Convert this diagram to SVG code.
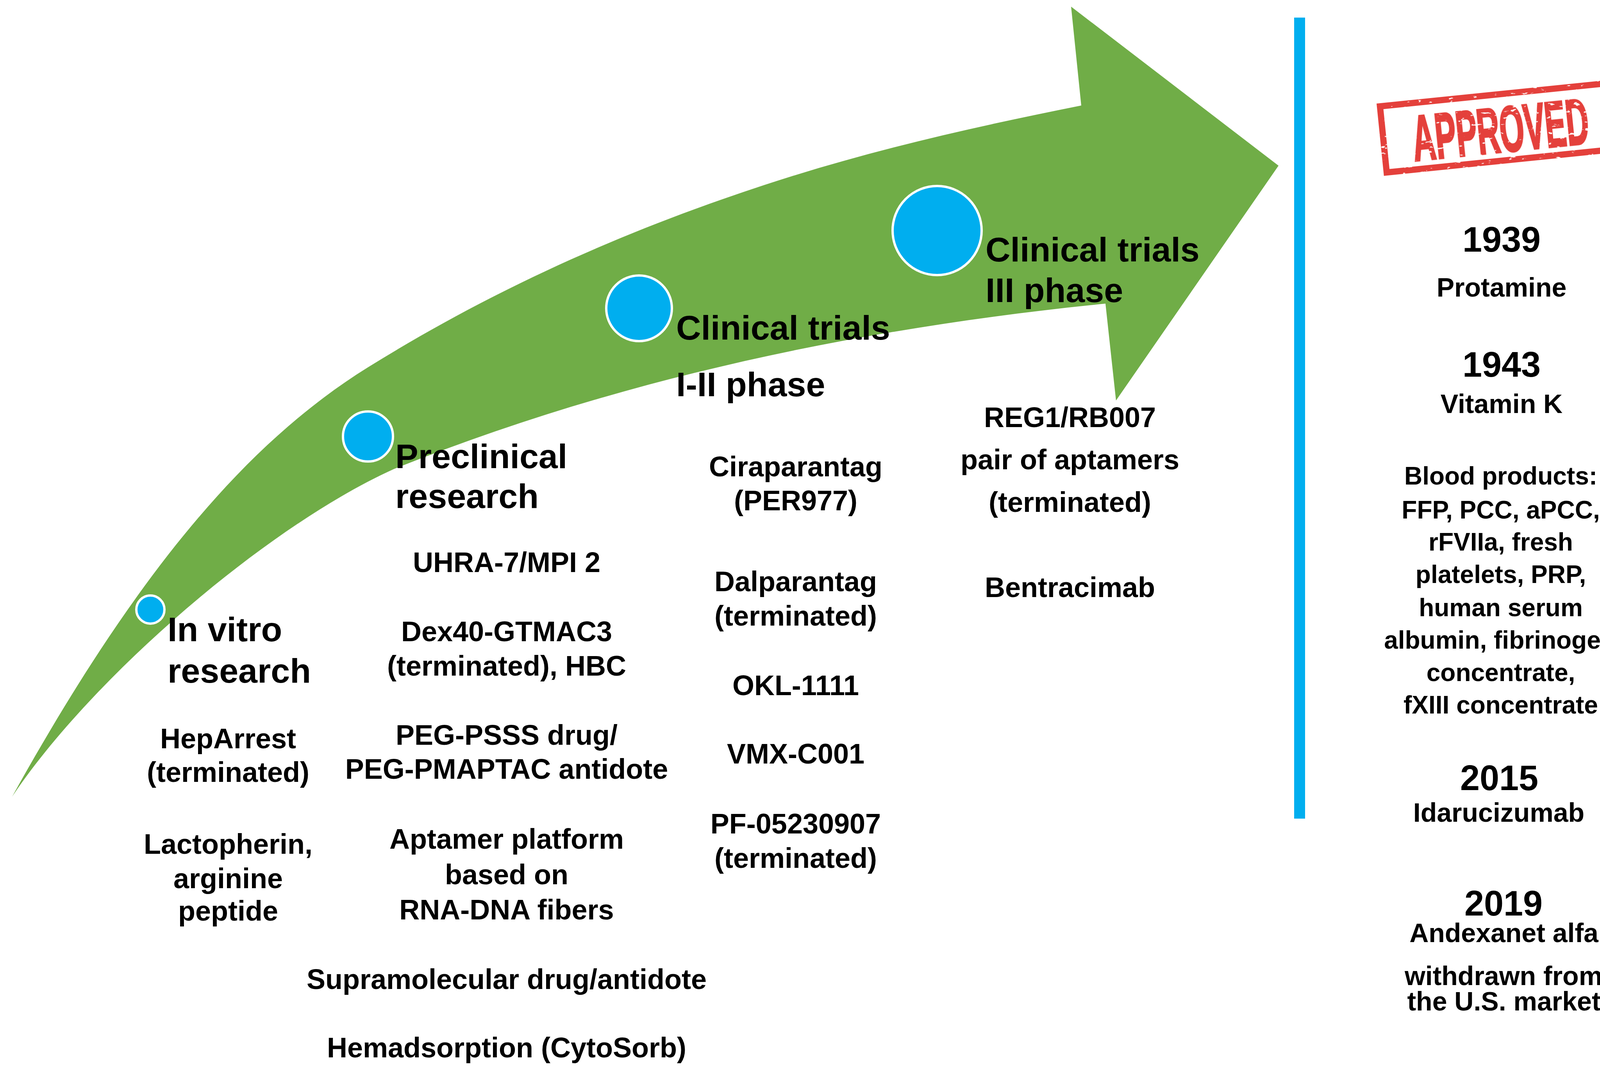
<svg xmlns="http://www.w3.org/2000/svg" width="4168" height="2746" viewBox="0 0 4168 2746">
<style>
.h{font-family:"Liberation Sans",Arial,sans-serif;font-weight:bold;font-size:88px;fill:#000}
.b{font-family:"Liberation Sans",Arial,sans-serif;font-weight:bold;font-size:72px;fill:#000;text-anchor:middle}
.y{font-family:"Liberation Sans",Arial,sans-serif;font-weight:bold;font-size:90px;fill:#000;text-anchor:middle}
.r{font-family:"Liberation Sans",Arial,sans-serif;font-weight:bold;font-size:68px;fill:#000;text-anchor:middle}
.s{font-family:"Liberation Sans",Arial,sans-serif;font-weight:bold;font-size:64px;fill:#000;text-anchor:middle}
.dot{fill:#00AEEF;stroke:#fff;stroke-width:6}
</style>
<defs>
<filter id="grunge" x="-5%" y="-10%" width="110%" height="120%">
<feTurbulence type="fractalNoise" baseFrequency="0.05 0.12" numOctaves="3" seed="7" result="noise"/>
<feColorMatrix in="noise" type="matrix" values="0 0 0 0 0  0 0 0 0 0  0 0 0 0 0  16 0 0 0 -4" result="mask"/>
<feComposite in="SourceGraphic" in2="mask" operator="in"/>
</filter>
</defs>
<rect width="4168" height="2746" fill="#fff"/>
<g id="arrow">
<path fill="#70AD47" d="M31,2039 C331,1499 612,1145 942,940 C1282,729 1615,586 1955,474 C2225,385 2498,324 2768,270 L2742,17 L3273,424 L2857,1025 L2830,777 C2230,837 1609,960 1009,1200 C679,1349 231,1739 31,2039 Z"/>
</g>
<g id="connectors"></g>
<rect id="divider" x="3313" y="45" width="28" height="2050" fill="#00AEEF"/>
<g id="stage-invitro">
<circle class="dot" cx="385" cy="1560" r="36"/>
<text class="h" x="429" y="1641">In vitro</text>
<text class="h" x="429" y="1747">research</text>
<text class="b" x="584" y="1915">HepArrest</text>
<text class="b" x="584" y="2001">(terminated)</text>
<text class="b" x="584" y="2185">Lactopherin,</text>
<text class="b" x="584" y="2273">arginine</text>
<text class="b" x="584" y="2356">peptide</text>
</g>
<g id="stage-preclinical">
<circle class="dot" cx="942" cy="1117" r="64"/>
<text class="h" x="1012" y="1198">Preclinical</text>
<text class="h" x="1012" y="1300">research</text>
<text class="b" x="1297" y="1464">UHRA-7/MPI 2</text>
<text class="b" x="1297" y="1641">Dex40-GTMAC3</text>
<text class="b" x="1297" y="1729">(terminated), HBC</text>
<text class="b" x="1297" y="1906">PEG-PSSS drug/</text>
<text class="b" x="1297" y="1993">PEG-PMAPTAC antidote</text>
<text class="b" x="1297" y="2172">Aptamer platform</text>
<text class="b" x="1297" y="2263">based on</text>
<text class="b" x="1297" y="2353">RNA-DNA fibers</text>
<text class="b" x="1297" y="2531">Supramolecular drug/antidote</text>
<text class="b" x="1297" y="2706">Hemadsorption (CytoSorb)</text>
</g>
<g id="stage-phase12">
<circle class="dot" cx="1636" cy="789" r="84"/>
<text class="h" x="1731" y="869">Clinical trials</text>
<text class="h" x="1731" y="1014">I-II phase</text>
<text class="b" x="2037" y="1219">Ciraparantag</text>
<text class="b" x="2037" y="1306">(PER977)</text>
<text class="b" x="2037" y="1513">Dalparantag</text>
<text class="b" x="2037" y="1601">(terminated)</text>
<text class="b" x="2037" y="1779">OKL-1111</text>
<text class="b" x="2037" y="1954">VMX-C001</text>
<text class="b" x="2037" y="2133">PF-05230907</text>
<text class="b" x="2037" y="2221">(terminated)</text>
</g>
<g id="stage-phase3">
<circle class="dot" cx="2399" cy="590" r="114"/>
<text class="h" x="2523" y="669">Clinical trials</text>
<text class="h" x="2523" y="773">III phase</text>
<text class="b" x="2739" y="1093">REG1/RB007</text>
<text class="b" x="2739" y="1201">pair of aptamers</text>
<text class="b" x="2739" y="1310">(terminated)</text>
<text class="b" x="2739" y="1528">Bentracimab</text>
</g>
<g id="approved-stamp" transform="translate(3524,265) rotate(-5.8)">
<g filter="url(#grunge)">
<rect x="8" y="8" width="582" height="170" fill="none" stroke="#E4403B" stroke-width="16"/>
<text x="82" y="156" font-family="'Liberation Sans',Arial,sans-serif" font-weight="bold" font-size="165" fill="#E4403B" stroke="#E4403B" stroke-width="5" textLength="453" lengthAdjust="spacingAndGlyphs">APPROVED</text>
</g>
</g>
<g id="approved-list">
<text class="y" x="3844" y="644">1939</text>
<text class="r" x="3844" y="759">Protamine</text>
<text class="y" x="3844" y="964">1943</text>
<text class="r" x="3844" y="1057">Vitamin K</text>
<text class="s" x="3842" y="1240">Blood products:</text>
<text class="s" x="3842" y="1327">FFP, PCC, aPCC,</text>
<text class="s" x="3842" y="1409">rFVIIa, fresh</text>
<text class="s" x="3842" y="1492">platelets, PRP,</text>
<text class="s" x="3842" y="1577">human serum</text>
<text class="s" x="3840" y="1660">albumin, fibrinogen</text>
<text class="s" x="3842" y="1743">concentrate,</text>
<text class="s" x="3842" y="1826">fXIII concentrate</text>
<text class="y" x="3838" y="2022">2015</text>
<text class="r" x="3837" y="2103">Idarucizumab</text>
<text class="y" x="3849" y="2343">2019</text>
<text class="r" x="3850" y="2411">Andexanet alfa</text>
<text class="r" x="3849" y="2521">withdrawn from</text>
<text class="r" x="3850" y="2586">the U.S. market</text>
</g>
</svg>
